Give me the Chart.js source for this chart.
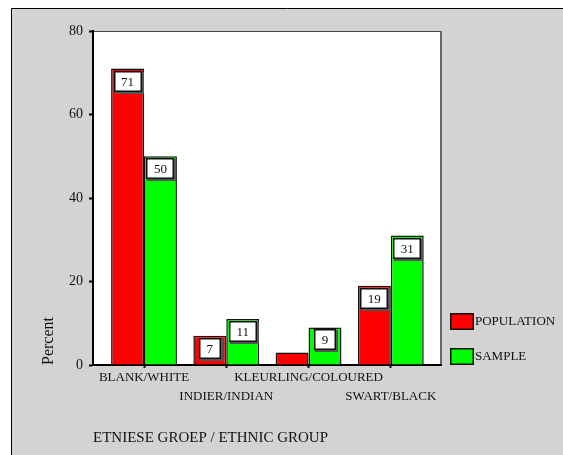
<!DOCTYPE html>
<html>
<head>
<meta charset="utf-8">
<script src="https://cdn.jsdelivr.net/npm/chart.js@4"></script>
<style>
  html, body { margin: 0; padding: 0; background: #fff; }
  #wrap { width: 563px; height: 455px; }
</style>
</head>
<body>
<div id="wrap"><canvas id="ethnicChart" width="563" height="455"></canvas></div>
<script>
const categories = ["BLANK/WHITE", "INDIER/INDIAN", "KLEURLING/COLOURED", "SWART/BLACK"];
const population = [71, 7, 3, 19];
const sample = [50, 11, 9, 31];
const yTicks = [0, 20, 40, 60, 80];

const serif = "'Liberation Serif', 'Times New Roman', serif";
const frameGray = "#d3d3d3";

// page frame + white plot background, top/right plot borders
const framePlugin = {
  id: "frame",
  beforeDraw(chart) {
    const { ctx, width, height, chartArea: a } = chart;
    ctx.save();
    ctx.fillStyle = "#fff";
    ctx.fillRect(0, 0, width, height);
    ctx.fillStyle = frameGray;
    ctx.fillRect(11, 8, width - 11, height - 8);
    ctx.strokeStyle = "#000";
    ctx.lineWidth = 1;
    ctx.beginPath();
    ctx.moveTo(11.5, height);
    ctx.lineTo(11.5, 8.5);
    ctx.lineTo(width, 8.5);
    ctx.stroke();
    ctx.fillStyle = "#fff";
    ctx.fillRect(a.left, a.top, a.right - a.left, a.bottom - a.top);
    ctx.strokeStyle = "#444";
    ctx.lineWidth = 1;
    ctx.beginPath();
    ctx.moveTo(a.left, a.top + 0.5);
    ctx.lineTo(a.right, a.top + 0.5);
    ctx.stroke();
    ctx.strokeStyle = "#666";
    ctx.lineWidth = 2;
    ctx.beginPath();
    ctx.moveTo(a.right, a.top);
    ctx.lineTo(a.right, a.bottom);
    ctx.stroke();
    ctx.restore();
  }
};

// boxed value labels near the top of each bar
const valueBoxPlugin = {
  id: "valueBoxes",
  afterDatasetsDraw(chart) {
    const { ctx } = chart;
    ctx.save();
    ctx.font = "13px " + serif;
    ctx.textAlign = "center";
    ctx.textBaseline = "middle";
    chart.data.datasets.forEach((ds, di) => {
      chart.getDatasetMeta(di).data.forEach((bar, i) => {
        const v = ds.data[i].y;
        if (v < 5) return;
        const txt = String(v);
        const w = Math.round(ctx.measureText(txt).width + 15);
        const h = 21;
        const x = Math.round(bar.x - w / 2);
        const y = Math.round(bar.y + 2);
        ctx.fillStyle = "#555";
        ctx.fillRect(x + 1, y + 1, w + 1, h + 1);
        ctx.fillStyle = "#fff";
        ctx.fillRect(x, y, w, h);
        ctx.strokeStyle = "#111";
        ctx.lineWidth = 1.5;
        ctx.strokeRect(x + 0.75, y + 0.75, w - 1.5, h - 1.5);
        ctx.fillStyle = "#111";
        ctx.fillText(txt, bar.x, y + h / 2 + 1);
      });
    });
    ctx.restore();
  }
};

// legend boxes stacked at the lower right of the plot
const legendPlugin = {
  id: "sideLegend",
  afterDraw(chart) {
    const { ctx, chartArea: a } = chart;
    const items = chart.data.datasets;
    ctx.save();
    ctx.font = "13px " + serif;
    ctx.textBaseline = "middle";
    ctx.textAlign = "left";
    items.forEach((ds, i) => {
      const bx = a.right + 9;
      const by = a.bottom - 17 - (items.length - 1 - i) * 35;
      ctx.fillStyle = ds.backgroundColor;
      ctx.fillRect(bx, by, 24, 17);
      ctx.strokeStyle = "#111";
      ctx.lineWidth = 1.5;
      ctx.strokeRect(bx + 0.75, by + 0.75, 22.5, 15.5);
      ctx.fillStyle = "#111";
      ctx.fillText(ds.label, bx + 25, by + 9);
    });
    ctx.restore();
  }
};

new Chart(document.getElementById("ethnicChart"), {
  type: "bar",
  data: {
    datasets: [
      {
        label: "POPULATION",
        data: population.map((v, i) => ({ x: i, y: v })),
        backgroundColor: "#ff0000",
        borderColor: "#111",
        borderWidth: 1.5,
      },
      {
        label: "SAMPLE",
        data: sample.map((v, i) => ({ x: i, y: v })),
        backgroundColor: "#00ff00",
        borderColor: "#111",
        borderWidth: 1.5,
      },
    ],
  },
  options: {
    responsive: false,
    animation: false,
    layout: { padding: { left: 0, top: 31, right: 122, bottom: 0 } },
    datasets: { bar: { categoryPercentage: 0.8, barPercentage: 1.0 } },
    scales: {
      x: {
        type: "linear",
        offset: false,
        min: -0.62,
        max: 3.61,
        afterBuildTicks: (s) => { s.ticks = categories.map((c, i) => ({ value: i })); },
        afterFit: (s) => { s.height = 90; },
        ticks: {
          autoSkip: false,
          maxRotation: 0,
          padding: 0,
          color: "#111",
          font: { family: serif, size: 13, lineHeight: 19 / 13 },
          callback: (v) => (v % 2 === 0 ? categories[v] : ["", categories[v]]),
        },
        grid: { offset: false, drawOnChartArea: false, drawTicks: true, tickLength: 3, tickColor: "#111", tickWidth: 2 },
        border: { color: "#000", width: 2 },
        title: {
          display: true,
          text: "ETNIESE GROEP / ETHNIC GROUP",
          align: "start",
          color: "#111",
          font: { family: serif, size: 15 },
          padding: { top: 0, bottom: 8 },
        },
      },
      y: {
        min: 0,
        max: 80,
        afterBuildTicks: (s) => { s.ticks = yTicks.map((v) => ({ value: v })); },
        afterFit: (s) => { s.width = 93; },
        ticks: { color: "#111", padding: 6, font: { family: serif, size: 14 } },
        grid: { drawOnChartArea: false, drawTicks: true, tickLength: 4, tickColor: "#000", tickWidth: 2 },
        border: { color: "#000", width: 2 },
        title: {
          display: true,
          text: "Percent",
          align: "start",
          color: "#111",
          font: { family: serif, size: 16 },
          padding: { top: 39, bottom: 0 },
        },
      },
    },
    plugins: {
      legend: { display: false },
      tooltip: { enabled: false },
    },
  },
  plugins: [framePlugin, valueBoxPlugin, legendPlugin],
});
</script>
</body>
</html>
